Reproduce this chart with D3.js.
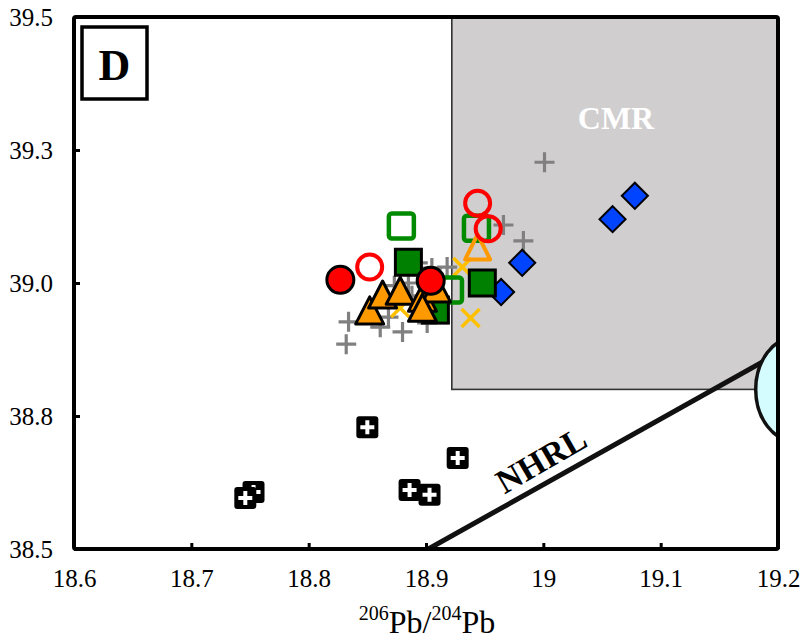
<!DOCTYPE html>
<html>
<head>
<meta charset="utf-8">
<script src="https://cdn.jsdelivr.net/npm/d3@7/dist/d3.min.js"></script>
<style>
  html, body { margin: 0; padding: 0; background: #fff; }
  svg { display: block; }
  svg text { font-family: "Liberation Serif", "Times New Roman", Times, serif; }
</style>
</head>
<body>
<svg id="chart" width="801" height="639"></svg>
<script>
// 206Pb/204Pb vs 208Pb/204Pb, panel D

const xTicks = [18.6, 18.7, 18.8, 18.9, 19.0, 19.1, 19.2];
const yTicks = [38.5, 38.75, 39.0, 39.25, 39.5];

// Sample groups: [206Pb/204Pb, 208Pb/204Pb]
const redFilled   = [[18.827, 39.006], [18.904, 39.004]];
const redOpen     = [[18.852, 39.030], [18.944, 39.150], [18.953, 39.102]];
const greenOpen   = [[18.879, 39.107], [18.943, 39.103], [18.920, 38.987]];
const greenFilled = [[18.885, 39.039], [18.948, 39.000], [18.908, 38.949]];
const orangeTri   = [[18.852, 38.940], [18.863, 38.970], [18.878, 38.977],
                     [18.897, 38.964], [18.909, 38.981], [18.897, 38.945]];
const orangeTriOpen = [[18.944, 39.060]];
const yellowX     = [[18.931, 39.030], [18.944, 39.002], [18.938, 38.934], [18.878, 38.953]];
const blueDiamond = [[19.078, 39.164], [19.059, 39.120], [18.982, 39.038], [18.964, 38.983]];
const grayPlus    = [[19.001, 39.227], [18.966, 39.109], [18.983, 39.079],
                     [18.834, 38.927], [18.832, 38.885], [18.861, 38.917],
                     [18.868, 38.936], [18.880, 38.908], [18.901, 38.925],
                     [18.885, 39.000], [18.893, 39.038], [18.905, 39.028],
                     [18.918, 39.030], [18.888, 38.976], [18.873, 38.995]];
const blackPlus   = [[18.850, 38.729], [18.927, 38.671], [18.753, 38.607],
                     [18.746, 38.596], [18.886, 38.611], [18.903, 38.602]];

// Reference fields
const cmrBox   = { x0: 18.922, x1: 19.2, y0: 38.8, y1: 39.5 };
const nhrl     = [[18.902, 38.5], [19.2, 38.868]];
const oibField = { cx: 19.215, cy: 38.80, rx: 0.034, ry: 0.098 };

const serif = '"Liberation Serif", "Times New Roman", Times, serif';
const svg = d3.select("#chart");
const L = 74, R = 778, T = 17, B = 549;
const x = d3.scaleLinear().domain([18.6, 19.2]).range([L, R]);
const y = d3.scaleLinear().domain([38.5, 39.5]).range([B, T]);

svg.append("defs").append("clipPath").attr("id", "plotClip")
  .append("rect").attr("x", L).attr("y", T).attr("width", R - L).attr("height", B - T);

const plot = svg.append("g").attr("clip-path", "url(#plotClip)");

// CMR field
plot.append("rect")
  .attr("x", x(cmrBox.x0)).attr("y", y(cmrBox.y1))
  .attr("width", x(cmrBox.x1) - x(cmrBox.x0))
  .attr("height", y(cmrBox.y0) - y(cmrBox.y1))
  .attr("fill", "#d0cecf").attr("stroke", "#333").attr("stroke-width", 1.6);

// NHRL
plot.append("line")
  .attr("x1", x(nhrl[0][0])).attr("y1", y(nhrl[0][1]))
  .attr("x2", x(nhrl[1][0])).attr("y2", y(nhrl[1][1]))
  .attr("stroke", "#111").attr("stroke-width", 5);

// field at the right edge
plot.append("ellipse")
  .attr("cx", x(oibField.cx)).attr("cy", y(oibField.cy))
  .attr("rx", x(oibField.cx) - x(oibField.cx - oibField.rx))
  .attr("ry", y(oibField.cy - oibField.ry) - y(oibField.cy))
  .attr("fill", "#d4fcff").attr("stroke", "#111").attr("stroke-width", 3.5);

const pts = svg.append("g");

function plusPath(a) { return `M${-a},0H${a}M0,${-a}V${a}`; }
function xPath(a) { return `M${-a},${-a}L${a},${a}M${-a},${a}L${a},${-a}`; }
function triPath(w, h) { return `M0,${-h * 2 / 3}L${w / 2},${h / 3}L${-w / 2},${h / 3}Z`; }

// gray crosses
pts.selectAll(".gp").data(grayPlus).join("path")
  .attr("transform", d => `translate(${x(d[0])},${y(d[1])})`)
  .attr("d", plusPath(10)).attr("stroke", "#808080").attr("stroke-width", 3.2).attr("fill", "none");

// yellow crosses
pts.selectAll(".yx").data(yellowX).join("path")
  .attr("transform", d => `translate(${x(d[0])},${y(d[1])})`)
  .attr("d", xPath(9)).attr("stroke", "#ffc000").attr("stroke-width", 3.5).attr("fill", "none");

// blue diamonds
pts.selectAll(".bd").data(blueDiamond).join("path")
  .attr("transform", d => `translate(${x(d[0])},${y(d[1])}) rotate(45)`)
  .attr("d", d3.symbol(d3.symbolSquare, 340)())
  .attr("fill", "#0044ff").attr("stroke", "#000").attr("stroke-width", 2);

// black squares with white crosses
const bp = pts.selectAll(".bp").data(blackPlus).join("g")
  .attr("transform", d => `translate(${x(d[0])},${y(d[1])})`);
bp.append("rect").attr("x", -11).attr("y", -11).attr("width", 22).attr("height", 22)
  .attr("rx", 3).attr("fill", "#000");
bp.append("path").attr("d", plusPath(7)).attr("stroke", "#fff").attr("stroke-width", 4);

// green open squares
pts.selectAll(".go").data(greenOpen).join("rect")
  .attr("x", d => x(d[0]) - 12.5).attr("y", d => y(d[1]) - 12.5)
  .attr("width", 25).attr("height", 25).attr("rx", 3)
  .attr("fill", "none").attr("stroke", "#008a00").attr("stroke-width", 4.5);

// green filled squares
pts.selectAll(".gf").data(greenFilled).join("rect")
  .attr("x", d => x(d[0]) - 13).attr("y", d => y(d[1]) - 13)
  .attr("width", 26).attr("height", 26)
  .attr("fill", "#008000").attr("stroke", "#000").attr("stroke-width", 3);

// orange triangles
pts.selectAll(".ot").data(orangeTri).join("path")
  .attr("transform", d => `translate(${x(d[0])},${y(d[1])})`)
  .attr("d", triPath(28, 27)).attr("fill", "#ff9900")
  .attr("stroke", "#000").attr("stroke-width", 3).attr("stroke-linejoin", "round");

pts.selectAll(".oto").data(orangeTriOpen).join("path")
  .attr("transform", d => `translate(${x(d[0])},${y(d[1])})`)
  .attr("d", triPath(25, 25)).attr("fill", "none")
  .attr("stroke", "#ff9900").attr("stroke-width", 4).attr("stroke-linejoin", "round");

// red circles
pts.selectAll(".rf").data(redFilled).join("circle")
  .attr("cx", d => x(d[0])).attr("cy", d => y(d[1])).attr("r", 13.5)
  .attr("fill", "#ff0000").attr("stroke", "#000").attr("stroke-width", 3);

pts.selectAll(".ro").data(redOpen).join("circle")
  .attr("cx", d => x(d[0])).attr("cy", d => y(d[1])).attr("r", 12.5)
  .attr("fill", "none").attr("stroke", "#ff0000").attr("stroke-width", 4);

// field labels
svg.append("text").attr("x", 616).attr("y", 129).attr("text-anchor", "middle")
  .attr("font-size", 32).attr("font-weight", "bold").attr("fill", "#fff").text("CMR");
svg.append("text").attr("transform", "translate(547,470) rotate(-30)")
  .attr("text-anchor", "middle")
  .attr("font-size", 34).attr("font-weight", "bold").attr("fill", "#000")
  .attr("textLength", 98).attr("lengthAdjust", "spacingAndGlyphs").text("NHRL");

// axes
const fmt = d => String(+d.toFixed(2));
const xAxis = svg.append("g").attr("transform", `translate(0,${B})`)
  .call(d3.axisBottom(x).tickValues(xTicks).tickSize(-6).tickPadding(20).tickFormat(fmt));
const yAxis = svg.append("g").attr("transform", `translate(${L},0)`)
  .call(d3.axisLeft(y).tickValues(yTicks).tickSize(-6).tickPadding(21).tickFormat(d3.format(".1f")));
[xAxis, yAxis].forEach(a => {
  a.attr("font-family", serif);
  a.select(".domain").remove();
  a.selectAll(".tick line").attr("stroke", "#000").attr("stroke-width", 3);
  a.selectAll(".tick text").style("font-family", serif)
    .attr("font-size", 25).attr("fill", "#000");
});

// frame
svg.append("rect").attr("x", L).attr("y", T).attr("width", R - L).attr("height", B - T)
  .attr("rx", 2).attr("fill", "none").attr("stroke", "#000").attr("stroke-width", 4);

// panel letter
svg.append("rect").attr("x", 82).attr("y", 27).attr("width", 65).attr("height", 72)
  .attr("fill", "#fff").attr("stroke", "#000").attr("stroke-width", 3.5);
svg.append("text").attr("x", 114.5).attr("y", 80).attr("text-anchor", "middle")
  .attr("font-size", 44).attr("font-weight", "bold").text("D");

// x title
const title = svg.append("text").attr("x", 427).attr("y", 633).attr("text-anchor", "middle")
  .attr("font-size", 32);
title.append("tspan").attr("font-size", 20).attr("dy", -13).text("206");
title.append("tspan").attr("dy", 13).text("Pb/");
title.append("tspan").attr("font-size", 20).attr("dy", -13).text("204");
title.append("tspan").attr("dy", 13).text("Pb");
</script>
</body>
</html>
